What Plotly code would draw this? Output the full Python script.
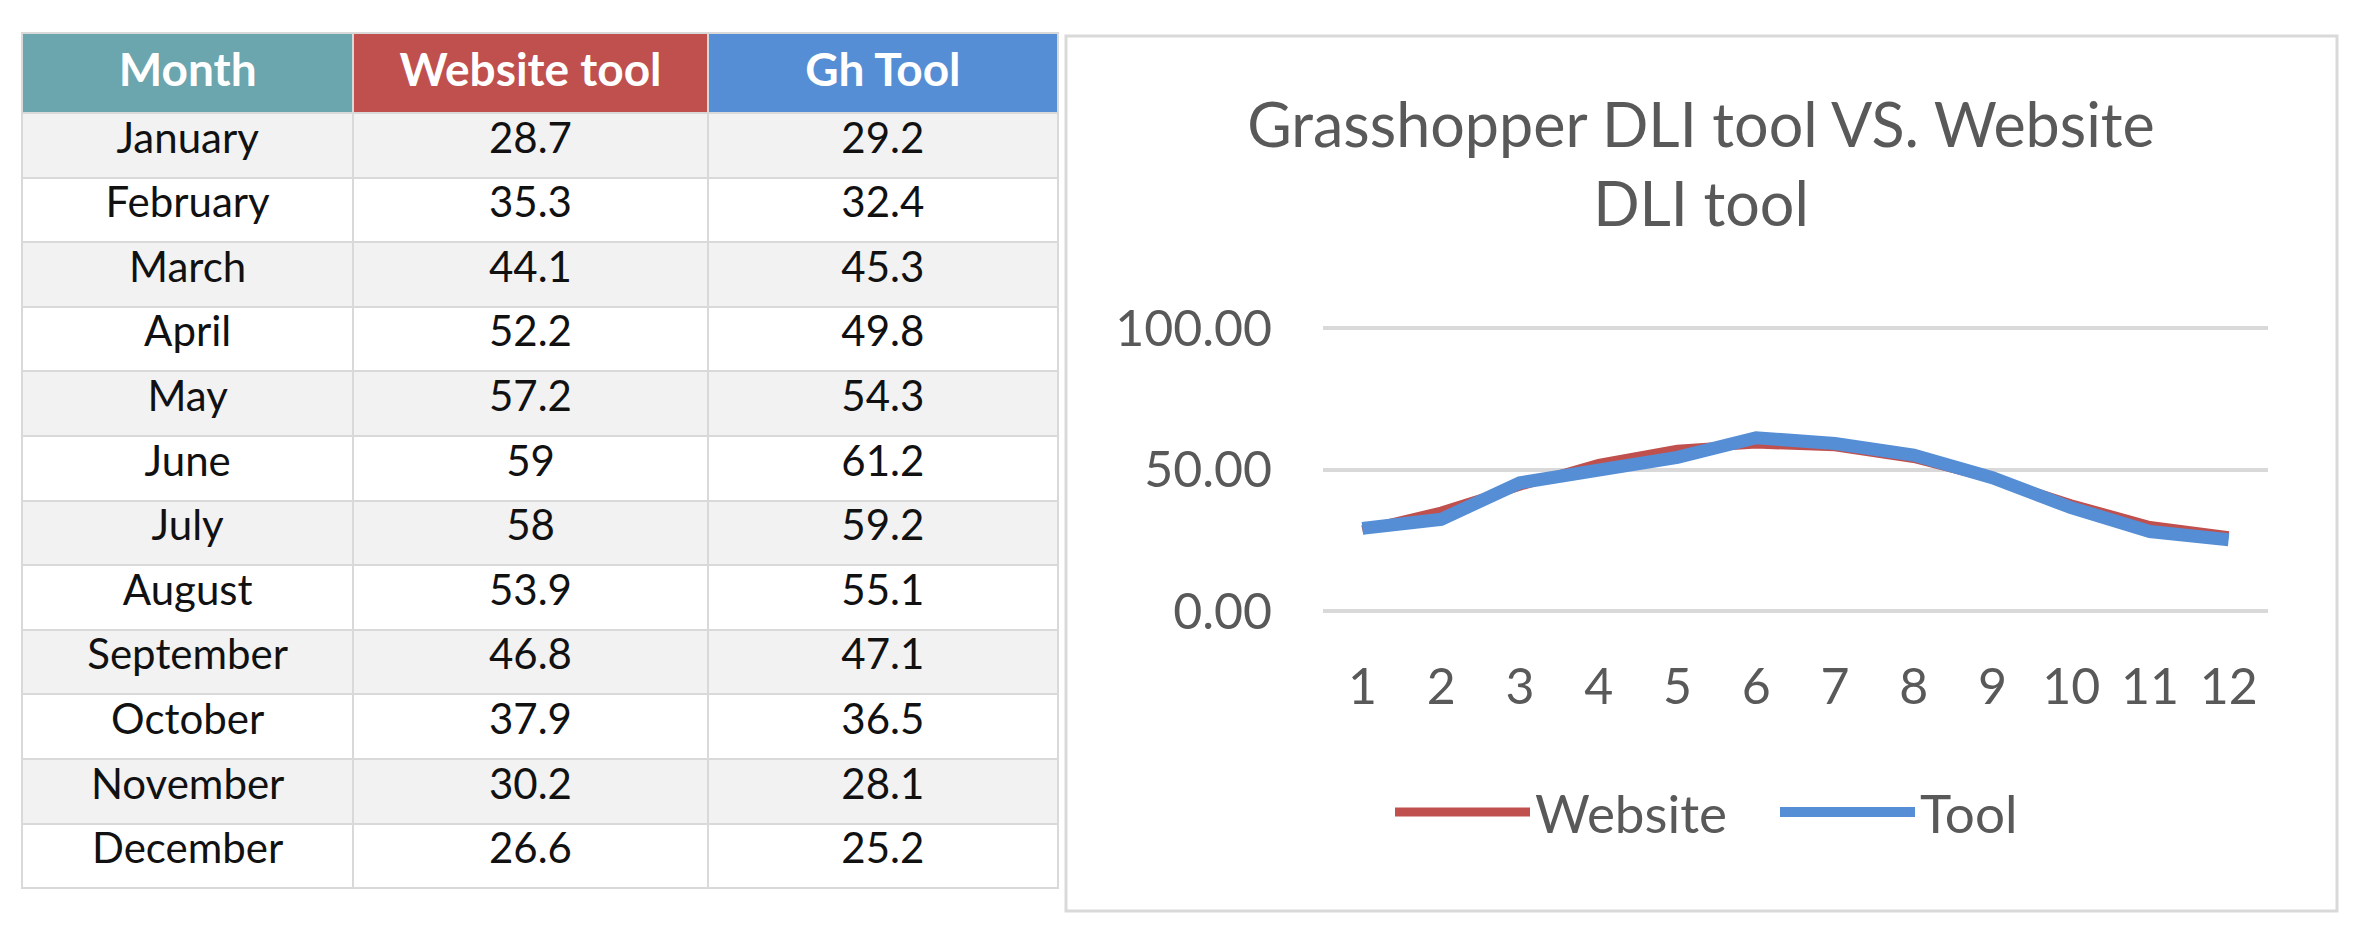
import plotly.graph_objects as go

# Data
months = ["January", "February", "March", "April", "May", "June",
          "July", "August", "September", "October", "November", "December"]
website_tool = [28.7, 35.3, 44.1, 52.2, 57.2, 59, 58, 53.9, 46.8, 37.9, 30.2, 26.6]
gh_tool = [29.2, 32.4, 45.3, 49.8, 54.3, 61.2, 59.2, 55.1, 47.1, 36.5, 28.1, 25.2]
month_nums = list(range(1, 13))
header_labels = ["Month", "Website tool", "Gh Tool"]

W, H = 2361, 931
OFF = 8  # page body margin
FONT = "Lato, Roboto, sans-serif"
RED = "#C0504D"
BLUE = "#558ED5"
TEAL = "#6BA5AD"
GRID = "#D9D9D9"
TXT = "#595959"


def px_x(v):
    return (v - OFF) / W


def px_y(v):
    return 1 - (v - OFF) / H


row_fill = ["#F2F2F2" if i % 2 == 0 else "#FFFFFF" for i in range(len(months))]

fig = go.Figure()

# table on the left
fig.add_trace(go.Table(
    domain=dict(x=[px_x(22), px_x(1058)], y=[px_y(890), px_y(33)]),
    columnwidth=[331, 354, 350],
    header=dict(
        values=["<b>%s</b>" % h for h in header_labels],
        fill_color=[TEAL, RED, BLUE],
        line=dict(color=GRID, width=2),
        font=dict(family=FONT, size=46, color="white"),
        align="center",
        height=80,
    ),
    cells=dict(
        values=[months, [f"{v:g}" for v in website_tool], [f"{v:g}" for v in gh_tool]],
        fill_color=[row_fill] * 3,
        line=dict(color=GRID, width=2),
        font=dict(family=FONT, size=42, color="#111111"),
        align="center",
        height=64.6,
    ),
))

# line chart on the right
fig.add_trace(go.Scatter(x=month_nums, y=website_tool, mode="lines", name="Website",
                         line=dict(color=RED, width=9)))
fig.add_trace(go.Scatter(x=month_nums, y=gh_tool, mode="lines", name="Tool",
                         line=dict(color=BLUE, width=13)))

# chart frame
fig.add_shape(type="rect", xref="paper", yref="paper",
              x0=px_x(1066), x1=px_x(2337), y0=px_y(911), y1=px_y(36),
              line=dict(color=GRID, width=3), fillcolor="rgba(0,0,0,0)", layer="below")

# y range padded a little so the 0 and 100 gridlines are drawn
pad = 2
fig.update_layout(
    width=W, height=H,
    margin=dict(l=0, r=0, t=0, b=0, autoexpand=False),
    paper_bgcolor="white", plot_bgcolor="white",
    font=dict(family=FONT, color=TXT),
    title=dict(text="Grasshopper DLI tool VS. Website<br>DLI tool",
               x=px_x(1701), xanchor="center", y=px_y(147), yanchor="top",
               font=dict(size=61, color=TXT, family=FONT)),
    xaxis=dict(domain=[px_x(1323), px_x(2268)], range=[0.5, 12.5],
               tickmode="array", tickvals=month_nums, ticks="",
               ticklabelstandoff=36,
               showgrid=False, zeroline=False, showline=False,
               tickfont=dict(size=50, color=TXT)),
    yaxis=dict(domain=[px_y(611 + 283 * pad / 100), px_y(328 - 283 * pad / 100)],
               range=[-pad, 100 + pad],
               tickvals=[0, 50, 100], tickformat=".2f", ticks="",
               ticklabelstandoff=50,
               showgrid=True, gridcolor=GRID, gridwidth=4,
               zeroline=False, showline=False,
               tickfont=dict(size=50, color=TXT)),
    legend=dict(orientation="h", x=px_x(1390), xanchor="left",
                y=px_y(812), yanchor="middle",
                font=dict(size=53, color=TXT), itemwidth=135,
                entrywidth=235, entrywidthmode="pixels",
                bgcolor="rgba(0,0,0,0)"),
)

fig.write_html("out.html")
